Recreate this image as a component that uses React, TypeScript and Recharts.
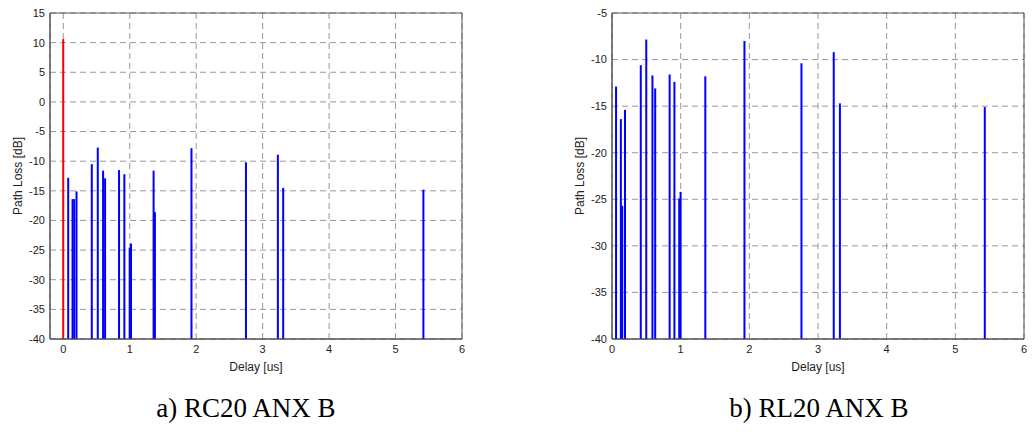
import React from "react";
import { BarChart, Bar, Cell, XAxis, YAxis, CartesianGrid, ReferenceArea } from "recharts";

// a) RC20 ANX B  (first tap is the direct path, drawn in red)
const rcDelay = [0, 0.075, 0.14, 0.165, 0.2, 0.43, 0.52, 0.6, 0.63, 0.84, 0.92, 1.0, 1.02, 1.36, 1.38, 1.93, 2.75, 3.23, 3.31, 5.42];
const rcLoss = [10.6, -12.8, -16.4, -16.4, -15.1, -10.5, -7.7, -11.6, -12.9, -11.5, -12.2, -24.6, -23.9, -11.6, -18.6, -7.8, -10.2, -8.9, -14.5, -14.8];

// b) RL20 ANX B
const rlDelay = [0.06, 0.13, 0.15, 0.19, 0.42, 0.5, 0.59, 0.63, 0.84, 0.91, 0.98, 1.0, 1.36, 1.93, 2.76, 3.23, 3.32, 5.43];
const rlLoss = [-12.9, -16.4, -25.7, -15.4, -10.6, -7.85, -11.7, -13.1, -11.6, -12.4, -24.9, -24.2, -11.8, -8.0, -10.4, -9.2, -14.7, -15.1];

const xTicks = [0, 1, 2, 3, 4, 5, 6];
const rcYTicks = [-40, -35, -30, -25, -20, -15, -10, -5, 0, 5, 10, 15];
const rlYTicks = [-40, -35, -30, -25, -20, -15, -10, -5];

const tickStyle = { fontSize: 11, fill: "#222", fontFamily: "Liberation Sans, Arial, sans-serif" };
const labelStyle = { ...tickStyle, fontSize: 12 };

// stems are 2px wide no matter how close the taps are
const Stem = (props: any) => {
  const { x, y, width, height, fill } = props;
  if (height == null || isNaN(height)) return null;
  return <rect x={x + width / 2 - 1} y={y} width={2} height={height} fill={fill} />;
};

function StemPanel({ delays, losses, xMin, yTicks, redFirst }: {
  delays: number[]; losses: number[]; xMin: number; yTicks: number[]; redFirst: boolean;
}) {
  const yMin = yTicks[0];
  const yMax = yTicks[yTicks.length - 1];
  const data = delays.map((d, i) => ({ delay: d, range: [yMin, losses[i]] }));
  return (
    <BarChart width={470} height={375} data={data} margin={{ top: 13, right: 8, left: 14, bottom: 0 }}>
      <CartesianGrid stroke="#999" strokeDasharray="6 4" />
      <XAxis
        dataKey="delay"
        type="number"
        domain={[xMin, 6]}
        ticks={xTicks}
        allowDataOverflow
        height={36}
        tickLine={false}
        tickSize={0}
        tickMargin={6}
        axisLine={{ stroke: "#555" }}
        tick={tickStyle}
        label={{ value: "Delay [us]", position: "insideBottom", offset: 4, style: labelStyle }}
      />
      <YAxis
        type="number"
        domain={[yMin, yMax]}
        ticks={yTicks}
        allowDataOverflow
        width={36}
        tickLine={false}
        tickSize={0}
        tickMargin={5}
        axisLine={{ stroke: "#555" }}
        tick={tickStyle}
        label={{ value: "Path Loss [dB]", angle: -90, position: "insideLeft", offset: 4, style: { ...labelStyle, textAnchor: "middle" } }}
      />
      <ReferenceArea x1={xMin} x2={6} y1={yMin} y2={yMax} fill="none" stroke="#555" strokeWidth={1} />
      <Bar dataKey="range" barSize={2} shape={Stem} isAnimationActive={false}>
        {data.map((_, i) => (
          <Cell key={i} fill={redFirst && i === 0 ? "#ff0000" : "#0000ff"} />
        ))}
      </Bar>
    </BarChart>
  );
}

const captionStyle: React.CSSProperties = {
  position: "absolute",
  top: 392,
  width: 412,
  textAlign: "center",
  fontFamily: "Liberation Serif, Times New Roman, serif",
  fontSize: 27,
  lineHeight: "32px",
  color: "#000",
};

export default function App() {
  return (
    <div style={{ position: "absolute", left: 0, top: 0, width: 1032, height: 432, background: "#fff" }}>
      <div style={{ position: "absolute", left: 0, top: 0 }}>
        <StemPanel delays={rcDelay} losses={rcLoss} xMin={-0.2} yTicks={rcYTicks} redFirst />
      </div>
      <div style={{ position: "absolute", left: 562, top: 0 }}>
        <StemPanel delays={rlDelay} losses={rlLoss} xMin={0} yTicks={rlYTicks} redFirst={false} />
      </div>
      <div style={{ ...captionStyle, left: 40 }}>a) RC20 ANX B</div>
      <div style={{ ...captionStyle, left: 613 }}>b) RL20 ANX B</div>
    </div>
  );
}
